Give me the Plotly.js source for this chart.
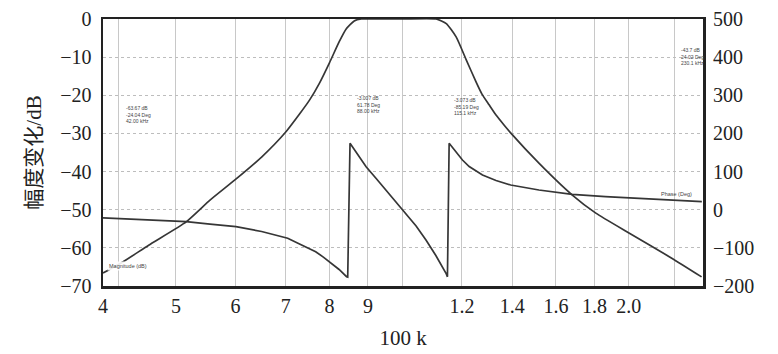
<!DOCTYPE html>
<html>
<head>
<meta charset="utf-8">
<script src="https://cdn.plot.ly/plotly-3.0.1.min.js"></script>
<style>html,body{margin:0;padding:0;background:#fff;}#chart{width:778px;height:354px;}</style>
</head>
<body>
<div id="chart"></div>
<script>
// Frequencies in kHz
const freqMag = [40, 42.5, 46.0, 51.6, 55.5, 59.9, 65.0, 69.8, 73.0, 75.3, 77.6, 80.0, 82.4, 84.2, 86.3, 88.2, 100, 110.9, 114.4, 117.9, 121.6, 125.3, 127.6, 130.4, 133.2, 136.5, 139.5, 151.9, 168.1, 180.8, 200.1, 228.1, 249.9];
const magDb   = [-66.6, -63.7, -59.3, -53.2, -47.5, -42.2, -36.2, -29.9, -24.9, -21.2, -16.8, -11.5, -6.0, -2.6, -0.5, 0, 0, 0, -1.2, -4.7, -10.7, -16.5, -19.7, -22.5, -25.2, -27.8, -30.0, -37.8, -46.1, -50.9, -56.1, -62.7, -67.6];

const freqPhase = [40, 44.8, 51.6, 55.5, 60.1, 65.0, 70.4, 73.0, 76.7, 78.6, 80.5, 82.4, 84.3, 84.6, 85.2, 87.2, 89.5, 92.3, 95.1, 98.1, 101.1, 104.3, 107.5, 110.8, 114.3, 114.8, 115.4, 117.8, 120.2, 122.7, 127.8, 133.2, 139.3, 151.9, 168.2, 186.2, 206.2, 228.3, 250.1];
const phaseDeg  = [-21.5, -25.6, -31.4, -38.0, -44.5, -57.1, -74.9, -89.9, -110.1, -124.8, -140.5, -156.7, -175.6, -176.5, 174.1, 144.8, 112.8, 81.8, 51.7, 21.6, -9.4, -42.7, -79.4, -120.0, -166.7, -176.0, 174.1, 152.1, 130.3, 113.3, 91.0, 76.6, 64.8, 51.7, 40.4, 34.1, 29.9, 25.5, 21.0];

const xTickVals = [40, 42, 50, 60, 70, 80, 90, 100, 120, 140, 160, 180, 200, 230.1];
const xTickText = ['4', '', '5', '6', '7', '8', '9', '', '1.2', '1.4', '1.6', '1.8', '2.0', ''];
const yLeftTicks = [0, -10, -20, -30, -40, -50, -60, -70];
const yRightTicks = [500, 400, 300, 200, 100, 0, -100, -200];

const cursorFreq = [42, 88, 115.1, 230.1];
const cursorText = [
  '-63.67 dB<br>-24.04 Deg<br>42.00 kHz',
  '-3.007 dB<br>61.78 Deg<br>88.00 kHz',
  '-3.073 dB<br>-85.19 Deg<br>115.1 kHz',
  '-43.7 dB<br>24.02 Deg<br>230.1 kHz'
];
const cursorTextTop = [-22.0, -19.4, -19.9, -6.8];
const cursorShift = [5, -6, 4, 4];

const lineColor = '#363636';
const serif = '"Liberation Serif", "Times New Roman", serif';

const traces = [
  {x: freqMag, y: magDb, type: 'scatter', mode: 'lines', name: 'Magnitude (dB)',
   line: {color: lineColor, width: 1.7, shape: 'spline', smoothing: 0.5}, yaxis: 'y', hoverinfo: 'skip'},
  {x: freqPhase, y: phaseDeg, type: 'scatter', mode: 'lines', name: 'Phase (Deg)',
   line: {color: lineColor, width: 1.7}, yaxis: 'y2', hoverinfo: 'skip'}
];

const annotations = cursorFreq.map((f, i) => ({
  x: Math.log10(f), y: cursorTextTop[i], xref: 'x', yref: 'y',
  text: cursorText[i], showarrow: false, xanchor: 'left', yanchor: 'top', align: 'left',
  xshift: cursorShift[i], font: {family: 'Arial, sans-serif', size: 5, color: '#444'}
}));
annotations.push({
  x: Math.log10(freqMag[0]), y: -64.8, xref: 'x', yref: 'y', text: 'Magnitude (dB)',
  showarrow: false, xanchor: 'left', yanchor: 'middle', xshift: 4, bgcolor: 'rgba(255,255,255,0.9)',
  font: {family: 'Arial, sans-serif', size: 5.5, color: '#444'}
});
annotations.push({
  x: Math.log10(freqPhase[freqPhase.length - 1]), y: 41, xref: 'x', yref: 'y2', text: 'Phase (Deg)',
  showarrow: false, xanchor: 'right', yanchor: 'middle', xshift: -8,
  font: {family: 'Arial, sans-serif', size: 5.5, color: '#444'}
});

const layout = {
  width: 778, height: 354,
  margin: {l: 103, r: 75, t: 19, b: 68, pad: 0},
  paper_bgcolor: '#fff', plot_bgcolor: '#fff',
  showlegend: false,
  font: {family: serif, size: 20, color: '#222'},
  xaxis: {
    type: 'log', range: [Math.log10(40), Math.log10(251)],
    tickmode: 'array', tickvals: xTickVals, ticktext: xTickText,
    showgrid: true, gridcolor: '#c8c8c8', gridwidth: 1,
    showline: true, linecolor: '#222', linewidth: 2.5, mirror: true,
    ticks: '', zeroline: false,
    tickfont: {family: serif, size: 20, color: '#222'},
    title: {text: '100 k', font: {family: serif, size: 21, color: '#222'}, standoff: 15}
  },
  yaxis: {
    range: [-70, 0], tickmode: 'array', tickvals: yLeftTicks,
    showgrid: true, gridcolor: '#bdbdbd', gridwidth: 1, griddash: 'dot',
    showline: true, linecolor: '#222', linewidth: 2.5, mirror: true,
    ticks: '', zeroline: false, ticklabelstandoff: 5,
    tickfont: {family: serif, size: 20, color: '#222'},
    title: {text: '幅度变化/dB', font: {family: '"Liberation Serif", "Noto Sans CJK SC", serif', size: 21, color: '#222'}, standoff: 13}
  },
  yaxis2: {
    range: [-200, 500], overlaying: 'y', side: 'right', tickmode: 'array', tickvals: yRightTicks,
    showgrid: false, zeroline: false, ticks: '', showline: false, ticklabelstandoff: 9,
    tickfont: {family: serif, size: 20, color: '#222'}
  },
  annotations: annotations
};

Plotly.newPlot('chart', traces, layout, {displayModeBar: false, staticPlot: true});
</script>
</body>
</html>
